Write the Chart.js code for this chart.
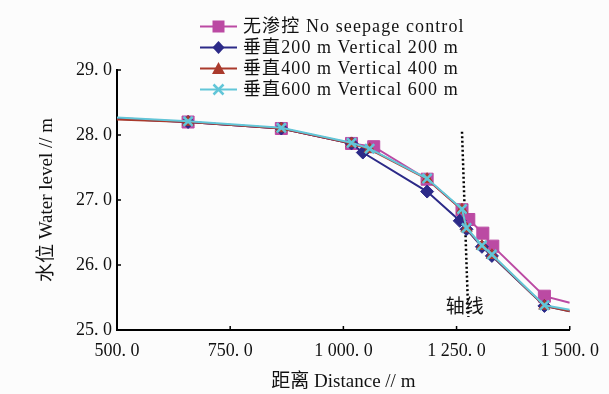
<!DOCTYPE html>
<html>
<head>
<meta charset="utf-8">
<script src="https://cdn.jsdelivr.net/npm/chart.js@4"></script>
<style>
  html,body{margin:0;padding:0;background:#fcfcfc;}
  #wrap{position:relative;width:609px;height:394px;}
  #legend{position:absolute;left:200px;top:16px;font-family:'Liberation Serif','Noto Sans CJK SC',serif;font-size:18px;color:#111;letter-spacing:1.1px;}
  #legend .row{height:21px;line-height:21px;display:flex;align-items:center;white-space:nowrap;}
  #legend svg{margin-right:6px;flex:none;}
</style>
</head>
<body>
<div id="wrap">
  <canvas id="c" width="609" height="394"></canvas>
  <div id="legend"></div>
</div>
<script>
// values
const NAMES = ['无渗控 No seepage control','垂直200 m Vertical 200 m','垂直400 m Vertical 400 m','垂直600 m Vertical 600 m'];
const COLORS = ['#bb4aa3','#2c2a88','#aa3a2c','#62c6d8'];
const SHAPES = ['rect','rectRot','triangle','crossRot'];

const xNone = [500, 657, 863, 1018, 1067, 1185, 1262, 1277, 1308, 1330, 1444, 1500];
const yNone = [28.26, 28.20, 28.10, 27.87, 27.82, 27.32, 26.85, 26.70, 26.49, 26.29, 25.52, 25.42];
const xV200 = [500, 657, 863, 1018, 1043, 1185, 1257, 1272, 1306, 1328, 1444, 1500];
const yV200 = [28.25, 28.20, 28.10, 27.87, 27.73, 27.13, 26.68, 26.55, 26.28, 26.14, 25.37, 25.29];
const xV400 = [500, 657, 863, 1018, 1058, 1185, 1262, 1272, 1306, 1328, 1444, 1500];
const yV400 = [28.24, 28.20, 28.10, 27.87, 27.78, 27.32, 26.85, 26.56, 26.29, 26.15, 25.37, 25.29];
const xV600 = [500, 657, 863, 1018, 1058, 1185, 1262, 1272, 1306, 1328, 1444, 1500];
const yV600 = [28.27, 28.21, 28.11, 27.88, 27.79, 27.33, 26.86, 26.57, 26.30, 26.16, 25.38, 25.31];

const axisX = [1262, 1276];
const axisY = [28.05, 25.2];
const AXIS_LABEL = '轴线';

const X_TICKS = [500, 750, 1000, 1250, 1500];
const Y_TICKS = [25, 26, 27, 28, 29];

const fmt = v => {
  const s = v.toFixed(1).split('.');
  const i = s[0].length > 3 ? s[0].slice(0, -3) + ' ' + s[0].slice(-3) : s[0];
  return i + '. ' + s[1];
};
const pts = (xs, ys) => xs.map((x, i) => ({x, y: ys[i]}));
const radii = (n, r) => Array.from({length: n}, (_, i) => (i === 0 || i === n - 1) ? 0 : r);

const series = [[xNone,yNone],[xV200,yV200],[xV400,yV400],[xV600,yV600]];
const sizes = [8.5, 6.5, 6.5, 6.5];
const orders = [3, 2, 1, 0];

const datasets = series.map((s, k) => ({
  label: NAMES[k],
  data: pts(s[0], s[1]),
  borderColor: COLORS[k],
  backgroundColor: COLORS[k],
  borderWidth: 2,
  pointStyle: SHAPES[k],
  pointRadius: radii(s[0].length, sizes[k]),
  pointBorderWidth: k === 3 ? 2.5 : 1,
  pointBorderColor: COLORS[k],
  order: orders[k],
  tension: 0
}));
datasets.push({
  label: 'axis',
  data: pts(axisX, axisY),
  borderColor: '#000',
  borderWidth: 2.5,
  borderDash: [2, 2.5],
  pointRadius: 0,
  order: 5
});

const tickFont = {family: "'Liberation Serif','Noto Sans CJK SC',serif", size: 18};
const titleFont = {family: "'Liberation Serif','Noto Sans CJK SC',serif", size: 19};

const inwardTicks = {
  id: 'inwardTicks',
  afterDraw(chart) {
    const {ctx, chartArea: a, scales: {x, y}} = chart;
    ctx.save();
    ctx.strokeStyle = '#000';
    ctx.lineWidth = 1.5;
    ctx.beginPath();
    X_TICKS.forEach(v => { const px = x.getPixelForValue(v); ctx.moveTo(px, a.bottom); ctx.lineTo(px, a.bottom - 4); });
    Y_TICKS.forEach(v => { const py = y.getPixelForValue(v); ctx.moveTo(a.left, py); ctx.lineTo(a.left + 4, py); });
    ctx.stroke();
    // label of the dam axis line
    ctx.fillStyle = '#111';
    ctx.font = "19px 'Noto Sans CJK SC'";
    ctx.textAlign = 'center';
    ctx.textBaseline = 'middle';
    ctx.fillText(AXIS_LABEL, x.getPixelForValue(1268), y.getPixelForValue(25.37));
    ctx.restore();
  }
};

new Chart(document.getElementById('c'), {
  type: 'line',
  data: {datasets},
  options: {
    responsive: false,
    animation: false,
    layout: {padding: {top: 70, right: 39, left: 0, bottom: 0}},
    plugins: {legend: {display: false}, tooltip: {enabled: false}},
    scales: {
      x: {
        type: 'linear', min: 500, max: 1500,
        afterBuildTicks: s => { s.ticks = X_TICKS.map(v => ({value: v})); },
        afterFit: s => { s.height = 64; },
        grid: {display: false, drawTicks: false},
        border: {color: '#000', width: 2},
        ticks: {color: '#111', font: tickFont, padding: 10, maxRotation: 0, callback: v => fmt(v)},
        title: {display: true, text: '距离 Distance // m', color: '#111', font: titleFont, padding: {top: 0, bottom: 1}}
      },
      y: {
        min: 25, max: 29,
        afterBuildTicks: s => { s.ticks = Y_TICKS.map(v => ({value: v})); },
        afterFit: s => { s.width = 117; },
        grid: {display: false, drawTicks: false},
        border: {color: '#000', width: 2},
        ticks: {color: '#111', font: tickFont, padding: 5, callback: v => fmt(v)},
        title: {display: true, text: '水位 Water level // m', color: '#111', font: titleFont, padding: {top: 36, bottom: 0}}
      }
    }
  },
  plugins: [inwardTicks]
});

// html legend: line with marker in the middle
const marker = (k) => {
  const c = COLORS[k];
  if (k === 0) return `<rect x="12.5" y="4.5" width="12" height="12" fill="${c}"/>`;
  if (k === 1) return `<polygon points="18.5,4 24.5,10.5 18.5,17 12.5,10.5" fill="${c}"/>`;
  if (k === 2) return `<polygon points="18.5,4 25,16 12,16" fill="${c}"/>`;
  return `<path d="M13.5 5.5 L23.5 15.5 M23.5 5.5 L13.5 15.5" stroke="${c}" stroke-width="2.5"/>`;
};
document.getElementById('legend').innerHTML = NAMES.map((n, k) => `
  <div class="row"><svg width="37" height="21"><line x1="0" y1="10.5" x2="37" y2="10.5" stroke="${COLORS[k]}" stroke-width="2"/>${marker(k)}</svg><span>${n}</span></div>`).join('');
</script>
</body>
</html>
